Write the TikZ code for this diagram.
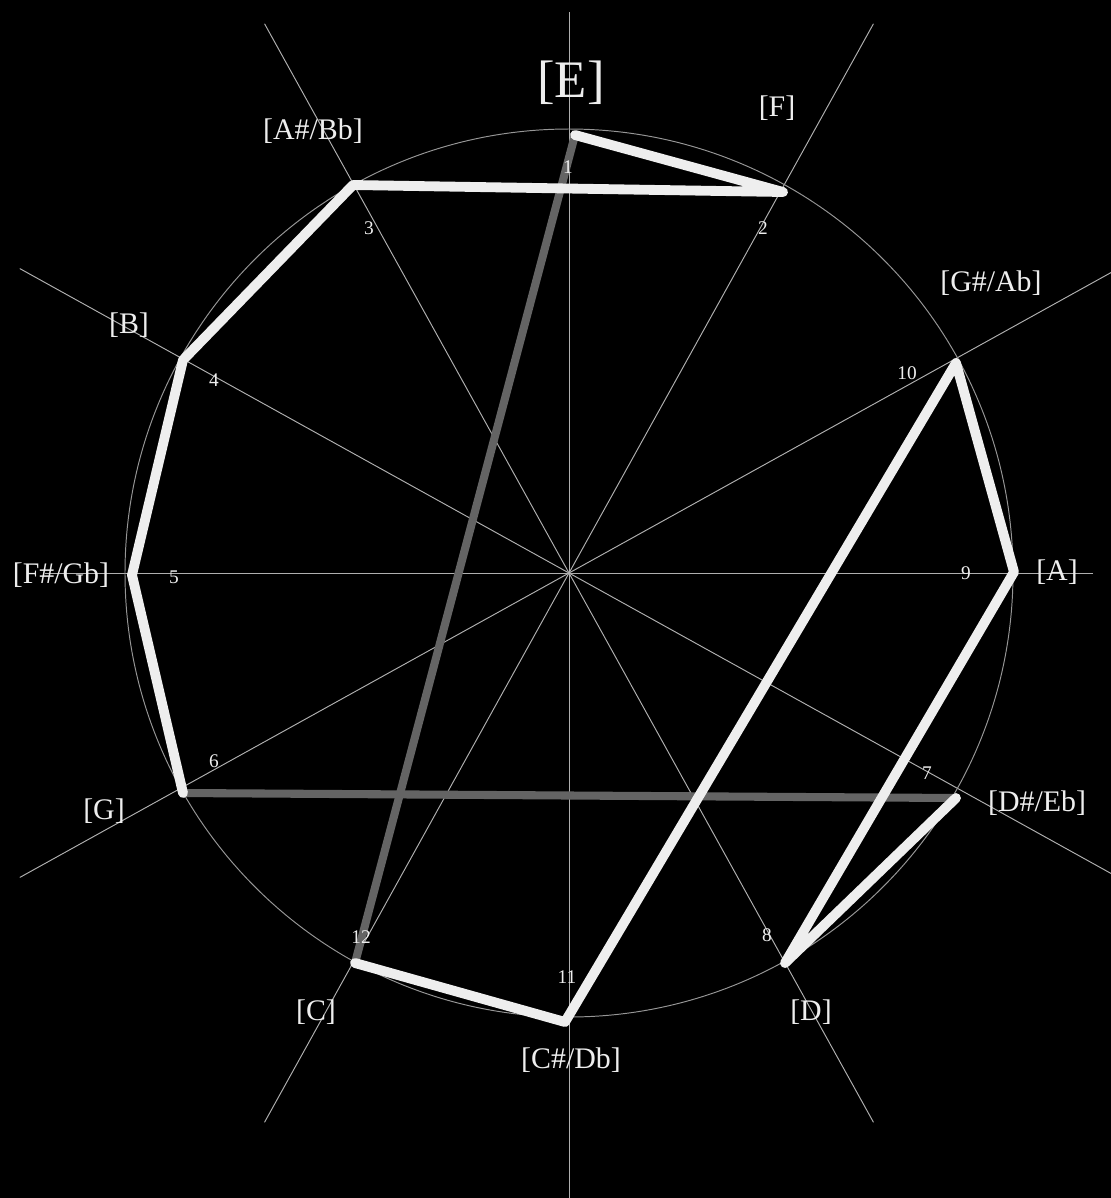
\documentclass[tikz,border=0pt]{standalone}
\usepackage{fontspec}
\setmainfont{Liberation Serif}
\usetikzlibrary{calc}
\definecolor{chalk}{RGB}{238,238,238}
\definecolor{rimgray}{RGB}{150,150,150}
\definecolor{raygray}{RGB}{175,175,175}
\definecolor{dimgray}{RGB}{100,100,100}

\begin{document}
\begin{tikzpicture}[
  x=0.02cm,y=-0.02cm,
  ray/.style={draw=raygray,line width=0.55pt},
  rim/.style={draw=rimgray,line width=0.55pt},
  edge/.style={draw=chalk,line width=5.6pt,line cap=round,line join=round},
  dimedge/.style={draw=dimgray,line width=4.6pt,line cap=round},
  note/.style={text=chalk,font=\fontsize{17}{20}\selectfont,inner sep=0pt},
  bignote/.style={note,font=\fontsize{30}{34}\selectfont},
  num/.style={text=chalk,font=\fontsize{11}{13}\selectfont,inner sep=0pt}
]
  \fill[black] (0,0) rectangle (1111,1198);
  \useasboundingbox (0,0) rectangle (1111,1198);
  \coordinate (c) at (569,573);

  % spokes
  \begin{scope}
    \clip (0,0) rectangle (1111,1198);
    \foreach \a/\l/\m in {0/524/524,29/628/628,61/628/628,90/640/561,119/628/628,151/628/628}
      \draw[ray] ($(c)+(\a:\l)$) -- ($(c)+(\a+180:\m)$);
  \end{scope}
  \draw[rim] (c) circle (444);

  % vertices
  \coordinate (v1) at (575,135);
  \coordinate (v2) at (783,192);
  \coordinate (v3) at (353,185);
  \coordinate (v4) at (183,360);
  \coordinate (v5) at (132,575);
  \coordinate (v6) at (183,793);
  \coordinate (v7) at (956,798);
  \coordinate (v8) at (785,963);
  \coordinate (v9) at (1014,572);
  \coordinate (v10) at (956,363);
  \coordinate (v11) at (565,1022);
  \coordinate (v12) at (355,963);

  \draw[dimedge] (v6) -- (v7);
  \draw[dimedge] (v12) -- (v1);
  \draw[edge] (v1) -- (v2) -- (v3) -- (v4) -- (v5) -- (v6);
  \draw[edge] (v7) -- (v8) -- (v9) -- (v10) -- (v11) -- (v12);

  % note names
  \node[bignote] (nE) at (571,83) {[E]};
  \node[note] (nF) at (777,108) {[F]};
  \node[note] (nGs) at (991,283) {[G\#/Ab]};
  \node[note] (nA) at (1057,572) {[A]};
  \node[note] (nDs) at (1037,803) {[D\#/Eb]};
  \node[note] (nD) at (811,1012) {[D]};
  \node[note] (nCs) at (571,1060) {[C\#/Db]};
  \node[note] (nC) at (316,1012) {[C]};
  \node[note] (nG) at (104,811) {[G]};
  \node[note] (nFs) at (61,575) {[F\#/Gb]};
  \node[note] (nB) at (129,325) {[B]};
  \node[note] (nAs) at (313,131) {[A\#/Bb]};

  % order numbers
  \node[num] (k1) at (568,167) {1};
  \node[num] (k2) at (763,228) {2};
  \node[num] (k3) at (369,228) {3};
  \node[num] (k4) at (214,380) {4};
  \node[num] (k5) at (174,577) {5};
  \node[num] (k6) at (214,761) {6};
  \node[num] (k7) at (927,773) {7};
  \node[num] (k8) at (767,935) {8};
  \node[num] (k9) at (966,573) {9};
  \node[num] (k10) at (907,373) {10};
  \node[num] (k11) at (567,977) {11};
  \node[num] (k12) at (361,937) {12};
\end{tikzpicture}
\end{document}
